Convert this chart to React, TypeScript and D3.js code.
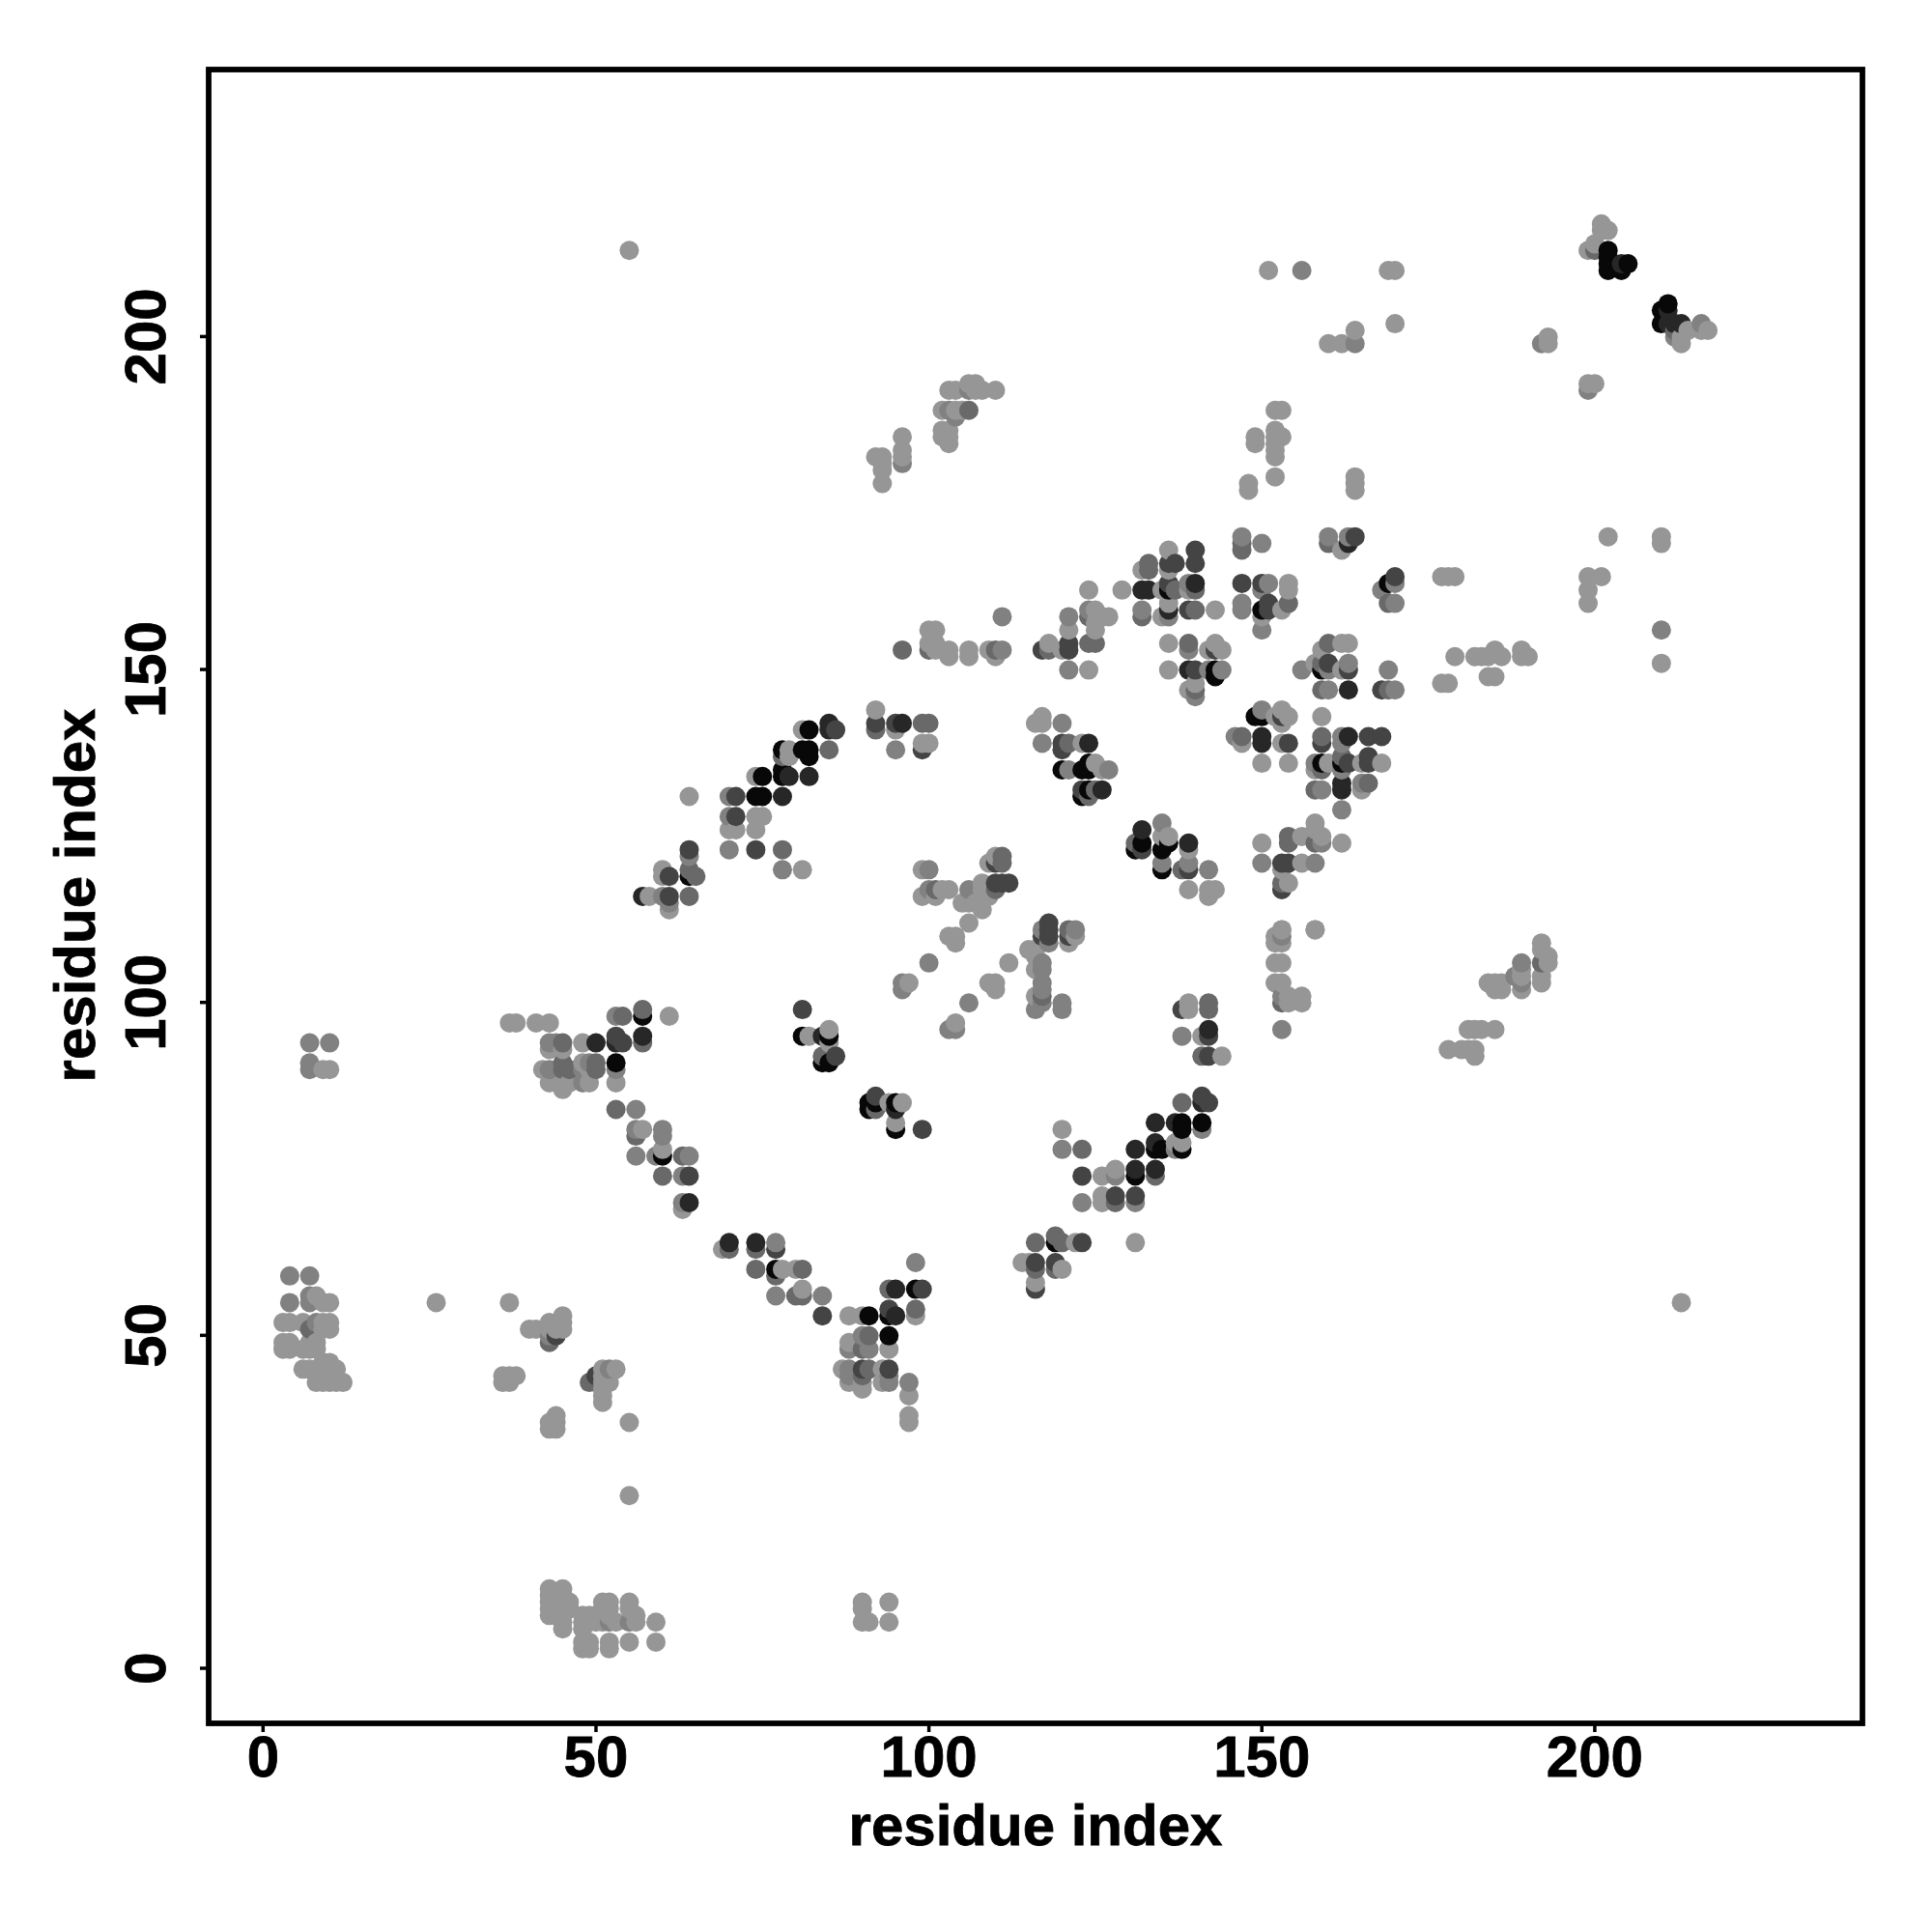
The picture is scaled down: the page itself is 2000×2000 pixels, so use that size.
import React from "react";
import * as d3 from "d3";

// contact strength levels read from the grey of each dot
const L = 0, G = 0.15, M = 0.32, D = 0.58, V = 0.78, K = 1;
type P = [number, number, number];

const tickValues = [0, 50, 100, 150, 200];
const axisTitle = "residue index";

const terminusContacts: P[] = [
  [4,59,G],[7,59,G],[4,55,G],[7,55,G],[7,56,G],[8,56,L],[9,55,L],[10,55,L],[26,55,L],[37,55,L],
  [3,52,L],[4,52,L],[6,52,L],[7,51,M],[8,52,G],[9,52,L],[10,52,L],[10,51,L],[9,51,L],
  [3,49,L],[4,49,L],[3,48,L],[4,48,L],[6,48,L],[7,48,L],[8,48,L],[7,49,L],[8,49,L],
  [6,45,L],[7,45,L],[8,45,L],[9,45,L],[10,45,L],[11,45,L],[9,46,L],[10,46,L],
  [8,43,L],[9,43,L],[10,43,L],[11,43,L],[12,43,L],
  [7,94,G],[10,94,G],[7,91,G],[7,90,G],[9,90,L],[10,90,L],
  [36,43,L],[36,44,L],[37,43,L],[37,44,L],[38,44,L],
  [40,51,L],[41,51,L],[43,52,L],[43,51,L],[43,50,G],[43,49,M],[44,50,D],[44,51,L],[45,53,L],[45,52,L],[45,51,L],
  [49,43,M],[50,44,D],[50,43,M],[51,45,L],[51,44,L],[51,43,L],[51,42,L],[51,41,L],[51,40,L],[52,43,L],[52,45,G],[53,45,L],
  [55,37,L],[55,26,L],[43,37,L],[43,36,L],[44,38,L],[44,37,L],[44,36,L],
  [43,12,L],[43,11,L],[43,10,L],[43,9,L],[43,8,L],[44,11,L],[44,10,L],[44,9,L],[44,8,L],
  [45,12,L],[45,11,L],[45,10,L],[45,9,L],[45,8,L],[45,7,L],[45,6,L],[46,10,L],[46,9,L],
  [48,8,L],[48,7,L],[48,6,L],[48,4,L],[48,3,L],[49,8,L],[49,7,L],[49,4,L],[49,3,L],[50,8,L],[50,7,L],
  [51,10,L],[51,9,L],[51,8,L],[51,7,L],[52,10,L],[52,9,L],[52,8,L],[52,7,G],[52,4,L],[52,3,L],[53,7,L],
  [55,10,L],[55,9,L],[55,7,G],[55,4,L],[56,8,L],[56,7,L],[59,7,L],[59,4,L],
  [90,10,L],[90,9,L],[90,7,L],[91,7,L],[94,10,L],[94,7,L],
  [55,213,L],[213,55,L],
];

const helixOneContacts: P[] = [
  [37,97,L],[38,97,L],[41,97,L],[43,97,L],[53,98,G],[54,98,M],[57,99,M],[57,98,K],[61,98,L],
  [53,95,D],[57,95,V],[43,94,G],[44,94,G],[45,94,M],[48,94,L],[50,94,V],[53,94,V],[54,94,D],[57,94,M],
  [43,93,L],[45,93,L],[42,90,L],[43,90,G],[45,91,M],[45,90,M],[46,90,M],[48,91,L],[49,91,G],[50,91,M],[48,90,G],[49,90,L],[50,90,M],
  [53,91,K],[53,90,G],[43,88,L],[45,88,L],[45,87,L],[46,88,L],[48,88,G],[49,88,L],[53,88,L],
  [53,84,M],[56,84,G],[56,81,G],[57,81,L],[60,81,G],[56,80,M],[60,80,G],
  [56,77,G],[59,77,G],[60,77,K],[60,78,L],[63,77,M],[64,77,G],[60,74,M],[63,74,G],[64,74,D],[63,70,G],[64,70,V],[63,69,L],
  [70,64,V],[74,64,V],[77,64,G],[69,63,L],[70,63,M],[74,63,M],[77,63,D],
  [74,60,M],[77,60,K],[78,60,L],[80,60,L],[81,60,M],[77,59,M],[77,56,G],[80,56,M],[81,57,L],[81,56,M],[84,56,G],
  [84,53,D],[88,53,L],[90,53,L],[91,53,K],[94,54,D],[94,53,K],[95,53,V],[98,54,M],[98,53,L],
  [94,57,M],[95,57,V],[98,57,K],[99,57,D],[98,61,G],
  [94,50,K],[88,49,L],[90,50,G],[91,50,M],[94,48,L],[88,48,G],[90,48,M],[91,48,G],
  [87,45,L],[88,45,G],[90,45,D],[91,45,M],[93,45,L],[94,45,D],[88,44,G],[90,44,M],[94,44,G],
  [88,43,L],[90,43,L],[93,43,L],[94,43,G],[97,43,G],[90,42,L],[97,41,L],[97,38,L],[97,37,L],
  [81,99,D],[81,95,K],[82,95,L],[84,95,V],[85,96,L],[85,95,K],[85,94,L],[84,92,M],[86,92,D],[84,91,K],[85,91,K],
  [91,85,K],[92,86,D],[92,85,K],[91,84,K],[92,84,M],[94,85,L],[95,85,K],[96,85,L],[95,84,V],[95,82,L],[95,81,K],[99,81,D],
];

const strandContacts: P[] = [
  [92,144,L],[92,142,D],[92,141,M],[95,142,D],[96,142,V],[95,141,L],[99,142,M],[100,142,M],[95,138,G],[99,139,L],[100,139,L],[99,138,D],
  [85,142,V],[85,141,V],[86,141,D],[81,141,L],[82,141,K],[85,138,M],[78,138,K],[79,138,L],[78,137,M],[79,137,L],
  [81,138,K],[82,138,K],[82,137,K],[82,134,V],[78,135,K],[78,134,K],[79,134,V],[74,134,L],[75,134,K],
  [74,131,K],[75,131,K],[78,131,V],[70,131,G],[71,131,D],[64,131,L],[70,128,G],[71,128,D],[74,128,L],[75,128,L],
  [70,126,L],[71,126,L],[74,126,L],[70,123,G],[74,123,D],[78,123,M],[78,120,G],[81,120,L],
  [64,123,D],[64,122,G],[64,120,M],[65,119,M],[64,119,K],[60,120,L],[60,119,L],[61,119,D],
  [57,116,V],[58,116,L],[60,116,G],[61,116,D],[64,116,M],[61,115,G],[61,114,L],
  [99,120,L],[100,120,G],[100,117,G],[99,116,L],[101,116,L],[101,117,M],[103,117,L],[102,117,L],
  [105,115,L],[106,117,G],[106,115,L],[108,118,L],[108,114,L],[107,115,L],[109,121,L],[110,122,L],[111,122,M],[110,121,D],[111,121,M],
  [110,118,D],[112,118,D],[111,118,D],[110,117,M],[109,117,L],[109,116,L],[108,117,L],
  [106,112,L],[103,110,L],[104,110,L],[104,109,L],[100,106,G],[96,103,G],[97,103,L],[96,102,G],
  [106,100,G],[109,103,L],[110,103,L],[110,102,L],[112,106,L],[103,96,G],[104,97,L],[104,96,G],
  [118,112,D],[118,111,D],[118,110,D],[117,111,G],[117,110,D],[118,109,G],[116,108,L],[115,108,L],[116,107,L],[117,109,L],
  [116,105,L],[117,106,G],[117,105,G],[117,103,G],[117,102,G],[117,101,M],[117,100,G],[116,101,L],[116,99,G],[120,100,G],[120,99,G],
  [121,111,M],[121,110,D],[122,111,G],[121,109,L],[122,110,L],
];

const coreContacts: P[] = [
  [147,170,G],[147,169,M],[147,168,M],[150,169,G],[160,170,G],[160,169,M],[163,170,G],[163,169,V],[164,170,D],[162,168,L],
  [136,168,L],[140,168,D],[140,166,D],[133,166,M],[133,165,M],[132,165,L],[136,166,D],[137,166,D],[136,165,L],
  [170,164,D],[169,163,K],[170,163,G],[168,162,G],[169,160,M],[170,160,G],[177,164,L],[178,164,L],[179,164,L],
  [124,162,L],[129,162,L],[132,162,V],[133,162,V],[135,162,L],[136,163,D],[136,162,K],[137,162,M],[139,163,G],[140,163,V],[139,162,L],[140,162,M],
  [147,163,D],[150,163,D],[151,163,G],[154,163,L],[154,162,L],[150,162,G],
  [147,160,G],[147,159,G],[150,159,K],[151,160,D],[151,159,D],[154,160,M],[153,159,L],[150,158,L],[150,156,G],
  [132,159,G],[132,158,M],[135,158,L],[136,160,L],[136,159,V],[136,158,G],[139,159,D],[140,159,M],[143,159,L],
  [127,158,L],[126,158,L],[124,159,G],[125,159,L],[124,158,M],[125,157,L],[125,156,L],[124,154,M],[125,154,M],
  [121,158,G],[121,156,L],[121,154,D],[121,153,D],[118,154,L],[117,153,D],[118,153,M],[120,153,L],[121,150,G],[124,150,L],
  [136,154,L],[139,154,M],[139,153,G],[142,153,L],[143,154,L],[144,153,L],[143,153,D],
  [136,150,L],[139,150,V],[140,150,D],[142,150,G],[143,150,K],[144,150,G],[143,149,K],[139,147,L],[140,147,M],[140,146,G],[140,148,L],
  [160,154,M],[162,154,L],[163,154,L],[159,153,L],[156,150,G],[158,151,L],[159,151,M],[159,150,K],[160,151,D],[160,150,G],[162,150,L],[163,151,G],[163,150,D],
  [159,147,M],[160,147,G],[163,147,V],[168,147,D],[169,147,M],[170,147,G],[169,150,G],
  [179,152,L],[182,152,L],[183,152,L],[184,152,L],[185,153,L],[186,152,L],[184,149,L],[185,149,L],[189,153,L],[189,152,L],[190,152,L],[177,148,L],[178,148,L],
  [96,153,M],[100,156,L],[101,156,L],[100,154,L],[101,154,L],[100,153,M],[101,153,L],[103,153,L],[103,152,L],[106,153,L],[106,152,L],
  [109,153,L],[110,153,M],[110,152,L],[111,153,G],[111,158,G],
  [117,143,L],[116,142,L],[117,142,L],[120,142,G],[117,139,G],[120,139,D],[121,139,M],[120,138,D],[124,139,V],[123,139,L],
  [120,135,K],[121,135,G],[123,135,K],[124,136,K],[125,136,L],[124,135,K],[126,135,L],[127,135,G],
  [123,132,D],[123,131,K],[124,132,K],[124,131,M],[125,132,M],[126,132,V],
  [150,144,G],[149,143,K],[150,143,K],[153,144,L],[152,143,L],[153,143,D],[154,143,L],[153,142,L],
  [146,140,G],[147,140,M],[147,139,L],[150,140,V],[150,139,V],[153,139,L],[154,139,D],[150,136,L],[154,136,L],[159,143,L],
  [159,140,M],[159,139,D],[162,140,G],[163,140,V],[162,139,G],[166,140,D],[168,140,D],
  [158,136,G],[159,136,K],[160,136,L],[158,135,L],[159,135,M],[162,137,M],[162,136,K],[163,136,D],[162,135,G],[165,136,L],[166,137,D],[166,136,D],[168,136,L],
  [158,132,M],[159,132,G],[162,133,V],[162,132,V],[165,133,G],[166,133,M],[165,132,L],[162,129,G],
];

const lowerContacts: P[] = [
  [132,126,V],[131,124,M],[132,124,K],[131,123,K],[132,123,D],[135,127,G],[135,125,L],[136,125,L],[135,123,K],[136,124,K],[139,124,V],[139,123,L],
  [135,121,G],[135,120,K],[138,120,M],[139,121,G],[139,120,D],[142,120,G],[139,117,L],[142,117,L],[143,117,L],[142,116,L],
  [150,124,L],[154,125,M],[154,124,M],[156,125,L],[158,127,L],[158,126,L],[158,124,M],[159,125,L],[159,124,G],[162,124,L],
  [150,121,G],[153,121,D],[154,121,D],[156,121,L],[158,121,G],[153,120,L],[153,118,M],[154,118,L],[153,117,D],
  [153,111,L],[158,111,G],[152,110,L],[153,110,G],[153,109,L],[152,106,L],[153,106,L],[152,103,L],[153,103,L],[153,101,G],[154,101,L],[153,100,M],[154,100,L],[156,101,L],[156,100,L],[153,96,G],
  [138,99,D],[139,100,L],[139,99,L],[142,100,M],[142,99,M],[138,95,G],[141,95,L],[142,96,V],[142,95,D],[141,92,M],[142,92,D],[144,92,L],
  [138,85,M],[141,86,D],[141,85,V],[142,85,D],[134,82,V],[137,82,V],[138,82,K],[138,81,K],[141,82,K],[141,81,G],
  [134,79,V],[134,78,K],[135,78,K],[131,78,V],[137,79,L],[138,79,L],[138,78,K],[137,78,G],
  [131,75,V],[131,74,K],[134,75,V],[134,74,M],[128,75,L],[128,74,G],[126,74,L],[123,74,D],
  [126,71,L],[126,70,L],[128,71,D],[128,70,M],[131,71,D],[131,70,G],[123,70,G],[120,81,L],[120,78,G],[123,78,M],
  [116,64,M],[119,65,M],[119,64,K],[120,64,M],[122,64,L],[123,64,D],[131,64,L],
  [114,61,L],[115,61,L],[116,61,D],[116,60,M],[119,61,D],[120,60,L],[119,60,M],[116,58,L],[116,57,D],
];

const farContacts: P[] = [
  [192,109,L],[192,108,L],[193,107,L],[193,106,L],[192,106,M],[192,103,L],[192,104,L],[189,106,G],[189,105,L],[189,104,L],[189,103,G],[189,102,L],[188,104,G],
  [184,103,L],[185,103,L],[186,103,L],[185,102,L],[186,102,L],[181,96,L],[182,96,L],[183,96,L],[185,96,L],[178,93,L],[180,93,L],[181,93,L],[182,93,L],[182,92,L],
  [201,217,L],[201,216,L],[202,216,L],[199,213,L],[200,214,L],[200,213,M],[202,213,K],[202,212,K],[202,211,K],[202,210,K],[204,210,K],[204,211,V],[205,211,K],
  [211,205,K],[210,204,K],[211,204,V],[210,202,K],[211,202,V],[213,202,V],[212,202,V],[212,201,M],[212,200,G],[213,200,L],[213,199,L],[214,201,L],[216,202,G],[216,201,L],[217,201,L],
  [192,199,G],[193,199,L],[193,200,L],[199,192,G],[199,193,L],[200,193,L],
  [152,189,L],[153,189,L],[149,185,L],[149,184,L],[152,186,L],[153,185,L],[152,185,L],[152,184,L],[152,183,L],[152,182,L],[152,179,L],[148,178,L],[148,177,L],
  [164,179,L],[164,178,L],[164,177,L],[151,210,L],[156,210,G],[169,210,L],[170,210,L],[170,202,L],[160,199,L],[162,199,L],[164,199,G],[164,201,L],
  [92,182,L],[93,182,L],[93,181,L],[93,180,L],[93,178,L],[96,185,L],[96,183,L],[96,182,L],[96,181,G],
  [103,192,L],[104,192,L],[106,193,L],[107,193,L],[106,192,G],[107,192,L],[108,192,L],[110,192,L],
  [102,189,L],[103,189,G],[104,189,L],[105,189,L],[106,189,M],[104,188,G],[102,186,L],[103,186,L],[102,185,L],[103,185,L],[103,184,L],
  [199,164,L],[201,164,L],[199,162,L],[199,160,L],[202,170,L],[210,170,L],[210,169,L],[210,156,G],[210,151,L],
  [153,111,L],[152,109,L],[158,111,L],
];

const contacts: P[] = [
  ...terminusContacts, ...helixOneContacts, ...strandContacts, ...coreContacts, ...lowerContacts, ...farContacts,
].sort((a, b) => d3.ascending(a[0], b[0]) || d3.ascending(a[1], b[1]));

const x = d3.scaleLinear().domain([-8.17, 240.2]).range([216, 1928]);
const y = d3.scaleLinear().domain([-8.27, 240.1]).range([1784, 72]);
const grey = d3.scaleLinear<number>().domain([0, 1]).range([150, 8]);

const font = "'Liberation Sans', Arial, sans-serif";

export default function App() {
  return (
    <svg width={2000} height={2000} viewBox="0 0 2000 2000"
      style={{ position: "absolute", left: 0, top: 0, display: "block", background: "#fff" }}>
      <g>
        {contacts.map(([a, b, s], i) => {
          const g = Math.round(grey(s));
          return <circle key={i} cx={x(a)} cy={y(b) + 0.5} r={10} fill={`rgb(${g},${g},${g})`} />;
        })}
      </g>
      <rect x={216} y={72} width={1712} height={1712} fill="none" stroke="#000" strokeWidth={5.8} />
      <g fontFamily={font} fontWeight="bold" fontSize={60} fill="#000" stroke="#000" strokeWidth={0.8}>
        {tickValues.map(t => (
          <g key={t}>
            <line x1={x(t)} x2={x(t)} y1={1784} y2={1793} stroke="#000" strokeWidth={3.5} />
            <text x={x(t)} y={1839} textAnchor="middle">{t}</text>
            <line x1={207} x2={216} y1={y(t)} y2={y(t)} stroke="#000" strokeWidth={3.5} />
            <text transform={`translate(171,${y(t)}) rotate(-90)`} textAnchor="middle">{t}</text>
          </g>
        ))}
        <text x={1072} y={1910} textAnchor="middle">{axisTitle}</text>
        <text transform="translate(98,927) rotate(-90)" textAnchor="middle">{axisTitle}</text>
      </g>
    </svg>
  );
}
